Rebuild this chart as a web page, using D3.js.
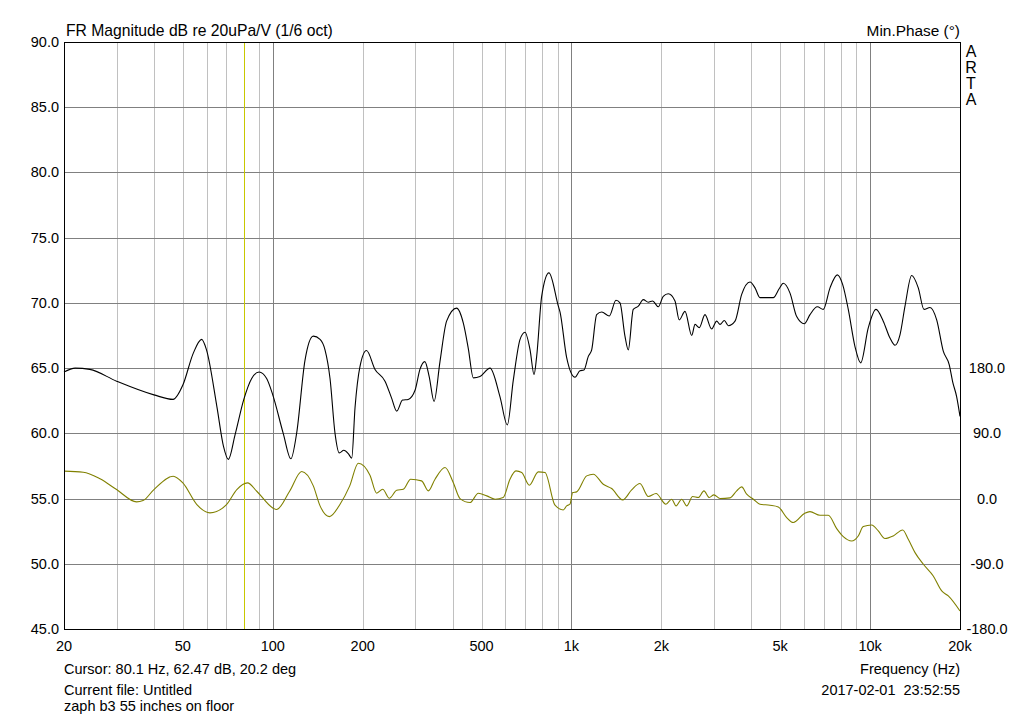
<!DOCTYPE html>
<html lang="en">
<head>
    <meta charset="UTF-8"/>
    <title>FR Magnitude - ARTA</title>
    <script src="https://d3js.org/d3.v7.min.js"></script>
    <style>
        body { margin: 0; background: #fff; }
        text { font-family: "Liberation Sans", Arial, sans-serif; fill: #000; }
    </style>
</head>
<body>
<script>
    // magnitude curve (Hz, dB)
    var magFreq = [20, 21.8, 24.4, 30, 40, 46.4, 50, 54.2, 57.8, 60, 65, 68.4, 71, 74.8, 80, 85, 90, 95.4,
        100, 108.4, 115, 120.2, 128.2, 136.7, 144, 149.6, 155.5, 161.6, 167, 173, 179, 183.8, 188.6, 195.8,
        206, 220, 237.6, 250, 260, 272, 284, 299.5, 311, 323, 334, 346.8, 363, 382, 412.8, 434.6, 451.6,
        469.4, 494, 534, 576.6, 610, 639, 673, 699, 727, 749.6, 765, 795, 841, 904, 916, 964,
        1028, 1068, 1101, 1139, 1169, 1215, 1263, 1339, 1410, 1454, 1511, 1550, 1611, 1675, 1740, 1808,
        1870, 1954, 2030, 2110, 2222, 2296, 2400, 2528, 2594, 2680, 2800, 2948, 3064, 3144, 3250, 3352,
        3530, 3716, 3962, 4118, 4278, 4506, 4740, 4966, 5122, 5394, 5678, 6020, 6292, 6660, 6972, 7342,
        7766, 8096, 8452, 8900, 9300, 9864, 10464, 11068, 11660, 12118, 12592, 13088, 13778, 14500,
        15152, 15870, 16710, 17580, 18412, 18900, 19494, 20000];
    var magDb = [64.7, 65.0, 64.9, 64.0, 62.95, 62.6, 63.7, 66.15, 67.2, 66.4, 62.05, 59.0, 58.0, 59.9, 62.6, 64.2, 64.7, 64.2,
        62.95, 60.0, 58.05, 60.0, 65.6, 67.45, 67.2, 66.4, 64.2, 60.0, 58.5, 58.7, 58.45, 58.1, 62.0, 65.1,
        66.35, 64.9, 64.0, 62.7, 61.7, 62.55, 62.6, 63.3, 64.9, 65.5, 64.35, 62.45, 65.5, 68.6, 69.6, 68.45, 66.5,
        64.25, 64.35, 65.0, 62.8, 60.65, 64.1, 67.2, 67.75, 66.4, 64.5, 65.9, 70.5, 72.3, 69.75, 69.3, 65.8,
        64.3, 64.8, 64.85, 65.9, 66.4, 69.1, 69.3, 69.0, 70.2, 70.0, 67.45, 66.4, 69.5, 69.75, 70.25, 70.05,
        70.15, 69.7, 70.5, 70.7, 70.15, 68.7, 69.35, 67.5, 68.35, 68.1, 69.1, 68.0, 68.6, 68.35, 68.65, 68.25,
        68.6, 70.65, 71.6, 71.15, 70.4, 70.4, 70.4, 71.1, 71.5, 70.75, 68.95, 68.4, 69.1, 69.7, 69.5, 71.15,
        72.15, 71.4, 69.5, 66.65, 65.4, 68.1, 69.5, 68.6, 67.3, 66.75, 67.55, 69.75, 72.1, 71.15,
        69.5, 69.65, 68.7, 66.3, 65.25, 63.95, 62.8, 61.3];

    // minimum phase curve (Hz, degrees)
    var phaseFreq = [20, 23.2, 26.4, 30, 35, 36.8, 40, 46.4, 50, 55.7, 61.6, 70, 75.8, 82.3, 88.4, 100, 103,
        114, 125, 136.7, 144, 154.7, 168, 181, 193.4, 211.6, 222.8, 233.4, 245.6, 260, 273.6, 289.6, 315,
        331.8, 349.4, 377.4, 402, 423.6, 457.6, 488, 520.6, 555, 591, 622.6, 652, 681.6, 722.8, 774.6,
        815.6, 881, 939, 964, 989, 1010, 1041, 1125, 1184, 1278, 1364, 1485, 1591, 1696, 1808, 1920,
        2072, 2166, 2240, 2340, 2432, 2546, 2660, 2778, 2894, 3000, 3144, 3396, 3576, 3716, 3862, 4066,
        4278, 4622, 4928, 5256, 5530, 6040, 6292, 6796, 7244, 7730, 8134, 8676, 9128, 9486, 10122,
        10652, 11216, 11956, 12856, 13422, 14140, 15078, 16274, 17370, 18274, 20000];
    var phaseDeg = [37.8, 36.4, 27.2, 12.4, -4.6, -2.8, 12.4, 30.8, 21.6, -8.3, -19.8, -8.3, 12.4, 21.6, 10.1, -12.9, -15.2,
        10.5, 37.3, 17.5, -10.1, -24.9, -7.8, 17.5, 48.8, 32.2, 7.4, 12.9, 0.5, 11.5, 12.9, 26.7, 24.4,
        10.6, 26.7, 42.8, 22.1, 0, -5.5, 7.4, 3.7, -0.9, 1.4, 26.7, 38.2, 35.9, 18.4, 36.8,
        35.9, -9.2, -15.7, -10.1, -7.8, 8.3, 9.2, 31.3, 33.6, 19.8, 13.8, -1.8, 12.0, 20.7, 2.8, 6.9,
        -7.8, -0.9, -10.1, -0.9, -10.1, 2.8, 1.4, 10.6, 1.4, 5.1, 0, 0.9, 10.6, 16.1, 6.0, -0.9,
        -7.8, -9.2, -11.5, -26.2, -33.1, -20.3, -18.0, -23.0, -23.0, -41.4, -52.5, -58.5, -51.6, -38.7, -36.4,
        -44.7, -55.2, -51.6, -43.3, -56.2, -74.6, -90.7, -106.8, -127.5, -134.4, -155.2];

    var dbTicks = [45, 50, 55, 60, 65, 70, 75, 80, 85, 90];
    var phaseTicks = [-180, -90, 0, 90, 180];
    var freqLabels = [20, 50, 100, 200, 500, 1000, 2000, 5000, 10000, 20000];
    var freqLabelText = ["20", "50", "100", "200", "500", "1k", "2k", "5k", "10k", "20k"];
    var cursorFreq = 80.1;

    var w = 1024, h = 718;
    var plotL = 64, plotR = 960, plotT = 42, plotB = 629;

    var svg = d3.select("body").append("svg")
                .attr("width", w)
                .attr("height", h);

    var xScale = d3.scaleLog().domain([20, 20000]).range([plotL, plotR]);
    var yScale = d3.scaleLinear().domain([45, 90]).range([plotB, plotT]);
    // phase axis: 180 deg per 10 dB, 0 deg sits at 55 dB
    var pScale = d3.scaleLinear().domain([-180, 630]).range([plotB, plotT]);

    function crisp(v) { return Math.round(v) + 0.5; }

    // vertical grid: every 1-2-...-9 step, decades darker
    var gridFreqs = [];
    [10, 100, 1000, 10000].forEach(function(dec) {
        for (var k = 1; k < 10; k++) {
            var f = dec * k;
            if (f > 20 && f < 20000) gridFreqs.push(f);
        }
    });
    function isDecade(f) { return f === 100 || f === 1000 || f === 10000; }

    svg.append("g").selectAll("line")
        .data(gridFreqs)
        .enter()
        .append("line")
        .attr("x1", function(d) { return crisp(xScale(d)); })
        .attr("x2", function(d) { return crisp(xScale(d)); })
        .attr("y1", plotT)
        .attr("y2", plotB)
        .attr("stroke", function(d) { return isDecade(d) ? "#808080" : "#c0c0c0"; })
        .attr("stroke-width", 1);

    svg.append("g").selectAll("line")
        .data(dbTicks.slice(1, -1))
        .enter()
        .append("line")
        .attr("x1", plotL)
        .attr("x2", plotR)
        .attr("y1", function(d) { return crisp(yScale(d)); })
        .attr("y2", function(d) { return crisp(yScale(d)); })
        .attr("stroke", "#808080")
        .attr("stroke-width", 1);

    // cursor
    svg.append("line")
        .attr("x1", crisp(xScale(cursorFreq)))
        .attr("x2", crisp(xScale(cursorFreq)))
        .attr("y1", plotT)
        .attr("y2", plotB)
        .attr("stroke", "#c8c800")
        .attr("stroke-width", 1);

    var magLine = d3.line()
        .x(function(d, i) { return xScale(magFreq[i]); })
        .y(function(d) { return yScale(d); })
        .curve(d3.curveMonotoneX);

    var phaseLine = d3.line()
        .x(function(d, i) { return xScale(phaseFreq[i]); })
        .y(function(d) { return pScale(d); })
        .curve(d3.curveMonotoneX);

    svg.append("path")
        .attr("d", phaseLine(phaseDeg))
        .attr("fill", "none")
        .attr("stroke", "#808000")
        .attr("stroke-width", 1.1);

    svg.append("path")
        .attr("d", magLine(magDb))
        .attr("fill", "none")
        .attr("stroke", "#000")
        .attr("stroke-width", 1.1);

    // frame
    svg.append("rect")
        .attr("x", plotL + 0.5)
        .attr("y", plotT + 0.5)
        .attr("width", plotR - plotL)
        .attr("height", plotB - plotT)
        .attr("fill", "none")
        .attr("stroke", "#000")
        .attr("stroke-width", 1);

    // left dB labels
    svg.append("g").selectAll("text")
        .data(dbTicks)
        .enter()
        .append("text")
        .attr("x", 59)
        .attr("y", function(d) { return yScale(d) + 5; })
        .attr("text-anchor", "end")
        .style("font-size", "14.5px")
        .text(function(d) { return d.toFixed(1); });

    // right phase labels
    svg.append("g").selectAll("text")
        .data(phaseTicks)
        .enter()
        .append("text")
        .attr("x", 987)
        .attr("y", function(d) { return pScale(d) + 5; })
        .attr("text-anchor", "middle")
        .style("font-size", "14.5px")
        .text(function(d) { return d.toFixed(1); });

    // frequency labels
    svg.append("g").selectAll("text")
        .data(freqLabels)
        .enter()
        .append("text")
        .attr("x", function(d) { return xScale(d); })
        .attr("y", 651)
        .attr("text-anchor", "middle")
        .style("font-size", "14.5px")
        .text(function(d, i) { return freqLabelText[i]; });

    svg.append("text")
        .attr("x", 66).attr("y", 36)
        .style("font-size", "15.7px")
        .text("FR Magnitude dB re 20uPa/V (1/6 oct)");

    svg.append("text")
        .attr("x", 960).attr("y", 36)
        .attr("text-anchor", "end")
        .style("font-size", "15.4px")
        .text("Min.Phase (°)");

    var arta = ["A", "R", "T", "A"];
    svg.append("g").selectAll("text")
        .data(arta)
        .enter()
        .append("text")
        .attr("x", 971)
        .attr("y", function(d, i) { return 57 + i * 16; })
        .attr("text-anchor", "middle")
        .style("font-size", "16px")
        .text(function(d) { return d; });

    svg.append("text")
        .attr("x", 64).attr("y", 674)
        .style("font-size", "14.5px")
        .text("Cursor: 80.1 Hz, 62.47 dB, 20.2 deg");

    svg.append("text")
        .attr("x", 64).attr("y", 695)
        .style("font-size", "14.5px")
        .text("Current file: Untitled");

    svg.append("text")
        .attr("x", 64).attr("y", 711)
        .style("font-size", "14.5px")
        .text("zaph b3 55 inches on floor");

    svg.append("text")
        .attr("x", 960).attr("y", 674)
        .attr("text-anchor", "end")
        .style("font-size", "14.5px")
        .text("Frequency (Hz)");

    svg.append("text")
        .attr("x", 960).attr("y", 695)
        .attr("text-anchor", "end")
        .style("font-size", "14.5px")
        .style("white-space", "pre")
        .text("2017-02-01  23:52:55");
</script>
</body>
</html>
